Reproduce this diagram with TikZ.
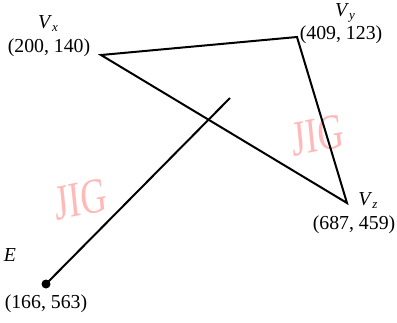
\documentclass[tikz,border=0pt]{standalone}
\usepackage{fontspec}
\setmainfont{Liberation Serif}
\definecolor{wm}{RGB}{255,185,185}
\begin{document}
\begin{tikzpicture}[x=1pt,y=-1pt,
  lbl/.style={font=\fontsize{19.8}{22}\selectfont, inner sep=0pt},
  edge/.style={line width=2pt, line join=miter},
  wmark/.style={font=\fontsize{50}{50}\selectfont, text=wm, xscale=0.72, rotate=8, inner sep=0pt}]
\useasboundingbox (0,0) rectangle (397,322);
\coordinate (vx) at (101,55);
\coordinate (vy) at (297,37);
\coordinate (vz) at (347,203);
\coordinate (e) at (46,284);
\coordinate (t) at (230,98);
\node[wmark] (w1) at (81,199) {JIG};
\node[wmark] (w2) at (318,135) {JIG};
\draw[edge] (vx) -- (vy) -- (vz) -- cycle;
\draw[edge] (e) -- (t);
\fill (e) circle (4.5);
\node[lbl] (lvx) at (48,24) {\textit{V}\raisebox{-3pt}{\fontsize{13}{13}\selectfont\textit{x}}};
\node[lbl] (cvx) at (49,48) {(200, 140)};
\node[lbl] (lvy) at (345,13) {\textit{V}\raisebox{-3pt}{\fontsize{13}{13}\selectfont\textit{y}}};
\node[lbl] (cvy) at (341,35) {(409, 123)};
\node[lbl] (lvz) at (368,201) {\textit{V}\raisebox{-3pt}{\fontsize{13}{13}\selectfont\textit{z}}};
\node[lbl] (cvz) at (354,225) {(687, 459)};
\node[lbl] (le) at (10,255) {\textit{E}};
\node[lbl] (ce) at (46,304) {(166, 563)};
\end{tikzpicture}
\end{document}
